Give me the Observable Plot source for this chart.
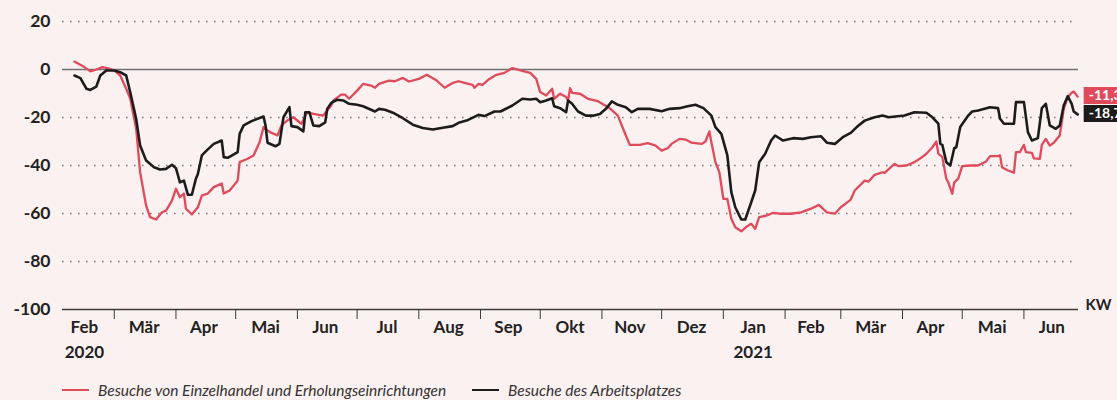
<!DOCTYPE html>
<html><head><meta charset="utf-8">
<script src="https://cdn.jsdelivr.net/npm/d3@7"></script>
<script src="https://cdn.jsdelivr.net/npm/@observablehq/plot@0.6"></script>
<style>
html,body{margin:0;padding:0;background:#fcf1f1;}
#wrap{position:relative;width:1117px;height:400px;overflow:hidden;font-family:Lato,"Open Sans",sans-serif;}
#legend{position:absolute;left:0;top:380px;width:1117px;height:20px;font-style:italic;font-size:15.5px;color:#333;}
.item{position:absolute;top:0;display:flex;align-items:center;white-space:nowrap;height:20px}
.sw{display:inline-block;width:27px;height:2.5px;margin-right:9px}
</style></head><body>
<div id="wrap"><div id="chart"></div><div id="legend"></div></div>
<script>
// Series: Besuche von Einzelhandel und Erholungseinrichtungen
const retailDates = ["2020-02-10","2020-02-15","2020-02-18","2020-02-21","2020-02-24","2020-02-27","2020-03-01","2020-03-04","2020-03-07","2020-03-09","2020-03-12","2020-03-14","2020-03-17","2020-03-19","2020-03-22","2020-03-25","2020-03-27","2020-03-30","2020-04-01","2020-04-03","2020-04-05","2020-04-06","2020-04-09","2020-04-12","2020-04-14","2020-04-17","2020-04-20","2020-04-24","2020-04-25","2020-04-28","2020-05-02","2020-05-03","2020-05-07","2020-05-10","2020-05-13","2020-05-15","2020-05-18","2020-05-22","2020-05-24","2020-05-27","2020-05-30","2020-06-03","2020-06-06","2020-06-09","2020-06-14","2020-06-18","2020-06-19","2020-06-23","2020-06-25","2020-06-27","2020-07-01","2020-07-04","2020-07-08","2020-07-10","2020-07-12","2020-07-17","2020-07-20","2020-07-24","2020-07-27","2020-08-01","2020-08-05","2020-08-10","2020-08-14","2020-08-18","2020-08-21","2020-08-24","2020-08-28","2020-08-29","2020-08-31","2020-09-02","2020-09-05","2020-09-09","2020-09-13","2020-09-17","2020-09-21","2020-09-26","2020-09-29","2020-10-01","2020-10-04","2020-10-05","2020-10-07","2020-10-08","2020-10-11","2020-10-14","2020-10-15","2020-10-16","2020-10-17","2020-10-21","2020-10-25","2020-10-30","2020-11-02","2020-11-04","2020-11-09","2020-11-12","2020-11-15","2020-11-20","2020-11-24","2020-11-28","2020-12-01","2020-12-04","2020-12-06","2020-12-10","2020-12-13","2020-12-16","2020-12-21","2020-12-23","2020-12-25","2020-12-26","2020-12-28","2020-12-30","2021-01-01","2021-01-03","2021-01-05","2021-01-07","2021-01-10","2021-01-13","2021-01-15","2021-01-17","2021-01-19","2021-01-23","2021-01-26","2021-01-30","2021-02-04","2021-02-09","2021-02-14","2021-02-18","2021-02-22","2021-02-26","2021-03-01","2021-03-06","2021-03-08","2021-03-13","2021-03-15","2021-03-18","2021-03-22","2021-03-23","2021-03-28","2021-03-30","2021-04-03","2021-04-07","2021-04-10","2021-04-13","2021-04-16","2021-04-18","2021-04-19","2021-04-21","2021-04-23","2021-04-24","2021-04-26","2021-04-27","2021-04-29","2021-05-01","2021-05-05","2021-05-09","2021-05-13","2021-05-15","2021-05-19","2021-05-20","2021-05-21","2021-05-24","2021-05-27","2021-05-28","2021-05-30","2021-06-01","2021-06-02","2021-06-05","2021-06-06","2021-06-09","2021-06-10","2021-06-12","2021-06-14","2021-06-16","2021-06-19","2021-06-20","2021-06-21","2021-06-23","2021-06-25","2021-06-26","2021-06-28"];
const retailValues = [3.3,1,-0.8,0,1,0.5,-0.4,-2.5,-8,-12,-24.6,-42.8,-56.7,-61.5,-62.5,-59.5,-58.8,-54.6,-49.7,-53.2,-51.7,-58,-60.4,-57.4,-52.5,-51.7,-49,-47.5,-51.7,-50.4,-46.3,-38.6,-37.2,-35.8,-30.3,-24,-26,-27.5,-23.3,-21.2,-19.9,-22.6,-17.8,-18.5,-19.2,-15,-13,-10.5,-10.5,-12.2,-8.8,-6,-6.7,-7.6,-6,-4.6,-4.9,-3.5,-5,-3.9,-2.2,-4.6,-7.6,-5.6,-4.9,-5.6,-6.4,-7.6,-6,-6.4,-4.2,-2.2,-1.4,0.6,-0.4,-1.4,-3.9,-9.4,-10.8,-9.9,-8,-12.2,-10.1,-11.5,-12.9,-7.8,-9.7,-10.1,-12.2,-13.2,-14.7,-15.5,-19.2,-25.4,-31.4,-31.4,-30.7,-31.7,-33.8,-32.8,-31,-28.9,-29.2,-30.5,-31,-30,-25.8,-30.3,-38.6,-42.8,-53.9,-53.9,-62.2,-65.7,-67.4,-65.3,-64.3,-66.4,-61.5,-60.8,-59.7,-60.1,-60.1,-59.5,-58,-56.4,-59.5,-60.1,-57.4,-54.2,-50.4,-46.3,-46.7,-43.9,-42.8,-43.1,-39.3,-40.3,-40,-38.6,-37,-35.1,-32.4,-30,-35.1,-36.5,-45.5,-47,-51.8,-47,-45.5,-40.3,-40,-40,-38.3,-36.1,-36.1,-35.8,-40.7,-42.1,-43,-34.4,-34.4,-31.4,-34.4,-34.7,-37,-37.2,-31.4,-28.9,-31.7,-30.5,-27.5,-22,-16.4,-11.5,-9.7,-9.2,-11.3];

// Series: Besuche des Arbeitsplatzes
const workDates = ["2020-02-10","2020-02-13","2020-02-16","2020-02-18","2020-02-21","2020-02-23","2020-02-26","2020-03-01","2020-03-04","2020-03-07","2020-03-09","2020-03-12","2020-03-14","2020-03-17","2020-03-21","2020-03-24","2020-03-27","2020-03-30","2020-04-01","2020-04-03","2020-04-05","2020-04-07","2020-04-09","2020-04-11","2020-04-12","2020-04-14","2020-04-17","2020-04-20","2020-04-24","2020-04-25","2020-04-27","2020-05-02","2020-05-03","2020-05-05","2020-05-09","2020-05-15","2020-05-16","2020-05-17","2020-05-21","2020-05-23","2020-05-25","2020-05-28","2020-05-29","2020-06-01","2020-06-04","2020-06-05","2020-06-07","2020-06-09","2020-06-12","2020-06-15","2020-06-16","2020-06-18","2020-06-21","2020-06-24","2020-06-27","2020-07-01","2020-07-04","2020-07-10","2020-07-12","2020-07-15","2020-07-19","2020-07-24","2020-07-29","2020-08-03","2020-08-08","2020-08-13","2020-08-18","2020-08-21","2020-08-25","2020-08-31","2020-09-03","2020-09-08","2020-09-11","2020-09-17","2020-09-22","2020-09-26","2020-09-29","2020-10-01","2020-10-04","2020-10-07","2020-10-08","2020-10-11","2020-10-14","2020-10-15","2020-10-17","2020-10-20","2020-10-24","2020-10-28","2020-10-31","2020-11-03","2020-11-06","2020-11-09","2020-11-13","2020-11-16","2020-11-19","2020-11-25","2020-12-01","2020-12-05","2020-12-10","2020-12-14","2020-12-18","2020-12-22","2020-12-26","2020-12-28","2020-12-31","2021-01-03","2021-01-05","2021-01-07","2021-01-10","2021-01-12","2021-01-15","2021-01-17","2021-01-19","2021-01-22","2021-01-25","2021-01-27","2021-01-31","2021-02-05","2021-02-10","2021-02-14","2021-02-19","2021-02-22","2021-02-26","2021-03-02","2021-03-06","2021-03-09","2021-03-13","2021-03-18","2021-03-22","2021-03-25","2021-04-02","2021-04-07","2021-04-13","2021-04-16","2021-04-19","2021-04-20","2021-04-21","2021-04-23","2021-04-25","2021-04-27","2021-04-28","2021-04-30","2021-05-04","2021-05-06","2021-05-09","2021-05-15","2021-05-19","2021-05-20","2021-05-22","2021-05-27","2021-05-28","2021-06-01","2021-06-03","2021-06-05","2021-06-08","2021-06-10","2021-06-12","2021-06-14","2021-06-17","2021-06-19","2021-06-21","2021-06-23","2021-06-25","2021-06-26","2021-06-28"];
const workValues = [-2.5,-3.6,-8,-8.5,-7.1,-2.5,-0.4,-0.4,-1.1,-2.5,-9.4,-20.5,-31.7,-37.9,-40.7,-41.7,-41.4,-39.7,-41.1,-47,-46.3,-52.2,-52.2,-45.5,-43.5,-35.8,-33.3,-31,-29.6,-36.5,-36.8,-34.4,-26.8,-23.3,-21.5,-19.6,-23.3,-30.5,-32,-31,-19.9,-15.7,-23.6,-24,-25.8,-17.8,-17.8,-23.3,-23.6,-22,-16.4,-13.9,-12.6,-12.9,-14.3,-14.7,-15.3,-17.5,-16.4,-16.8,-18,-20.3,-23,-24.4,-25,-24.3,-23.6,-22.2,-21.3,-18.9,-19.4,-17.5,-17.5,-15,-12.2,-12.5,-12.2,-13.6,-12.9,-12,-15.3,-16.1,-17.8,-12.9,-14.3,-17.5,-19.2,-19.2,-18.5,-16.4,-13.3,-14.7,-15.7,-17.8,-16.4,-16.4,-17.4,-16.4,-16.1,-15.3,-14.7,-16.1,-19.2,-24,-26.8,-35.8,-51.1,-57.4,-62.5,-62.5,-55.3,-50.4,-38.6,-35.1,-29.6,-27.5,-29.6,-28.6,-28.9,-28.2,-27.8,-30.5,-31,-28.2,-26.4,-24,-21.3,-19.9,-19.2,-19.9,-19.2,-17.8,-18,-19.9,-22.6,-31,-31.4,-38.6,-40,-32.8,-32.4,-24,-19.2,-17.5,-17.1,-15.7,-16.1,-20.5,-22.6,-22.6,-13.6,-13.6,-26.1,-29.6,-28.6,-16.1,-14.3,-23.3,-24.7,-23.3,-15,-11.1,-14.3,-17.5,-18.7];

const seriesNames = ["Besuche von Einzelhandel und Erholungseinrichtungen", "Besuche des Arbeitsplatzes"];
const seriesColors = ["#df4b5b", "#1c1c1c"];
const endLabels = ["-11,3", "-18,7"];

const monthTicks = ["2020-03-01","2020-04-01","2020-05-01","2020-06-01","2020-07-01","2020-08-01","2020-09-01","2020-10-01","2020-11-01","2020-12-01","2021-01-01","2021-02-01","2021-03-01","2021-04-01","2021-05-01","2021-06-01"];
const monthLabelDates = ["2020-02-15","2020-03-16","2020-04-15","2020-05-16","2020-06-15","2020-07-16","2020-08-16","2020-09-15","2020-10-16","2020-11-15","2020-12-16","2021-01-16","2021-02-14","2021-03-16","2021-04-15","2021-05-16","2021-06-15"];
const monthLabels = ["Feb","Mär","Apr","Mai","Jun","Jul","Aug","Sep","Okt","Nov","Dez","Jan","Feb","Mär","Apr","Mai","Jun"];
const yearLabelDates = ["2020-02-15","2021-01-16"];
const yearLabels = ["2020","2021"];
const yTicks = [20,0,-20,-40,-60,-80,-100];
const gridValues = [20,-20,-40,-60,-80];
const xDomain = ["2020-02-04","2021-06-28T10:00"];
const yDomain = [-100, 20];

const toDate = s => new Date(s);
const retail = retailDates.map((d,i) => ({date: toDate(d), value: retailValues[i]}));
const work = workDates.map((d,i) => ({date: toDate(d), value: workValues[i]}));
const ends = [
  {date: retail[retail.length-1].date, value: retailValues[retailValues.length-1], label: endLabels[0], color: seriesColors[0]},
  {date: work[work.length-1].date, value: workValues[workValues.length-1], label: endLabels[1], color: seriesColors[1]}
];
const boxSymbol = {draw(ctx) { ctx.rect(6, -9.5, 60, 17); }};
const font = "Lato, 'Open Sans', sans-serif";

const chart = Plot.plot({
  width: 1117, height: 372,
  marginLeft: 62, marginRight: 39, marginTop: 21, marginBottom: 63,
  style: {background: "transparent", fontFamily: font, color: "#222"},
  x: {type: "utc", domain: xDomain.map(toDate)},
  y: {domain: yDomain},
  marks: [
    Plot.ruleY(gridValues, {stroke: "#7d7d7d", strokeWidth: 1.6, strokeDasharray: "1.6,6.4"}),
    Plot.ruleY([0], {stroke: "#6f6f74", strokeWidth: 1.5}),
    Plot.ruleY([-100], {stroke: "#3a3a3a", strokeWidth: 1.3}),
    Plot.axisY({ticks: yTicks, tickSize: 0, tickPadding: 12, tickFormat: d => String(d), label: null, fontSize: 17.5, fontWeight: "bold", fill: "#222"}),
    Plot.axisX({ticks: monthTicks.map(toDate), tickSize: 10, tickFormat: () => "", label: null, stroke: "#3a3a3a"}),
    Plot.text(monthLabelDates, {x: toDate, frameAnchor: "bottom", dy: 23, text: (d,i) => monthLabels[i], fontSize: 17, fontWeight: "bold", fill: "#222"}),
    Plot.text(yearLabelDates, {x: toDate, frameAnchor: "bottom", dy: 48, text: (d,i) => yearLabels[i], fontSize: 17, fontWeight: "bold", fill: "#222"}),
    Plot.text(["KW"], {frameAnchor: "bottom-right", dx: 7, textAnchor: "start", fontSize: 15, fontWeight: "bold", fill: "#222"}),
    Plot.line(retail, {x: "date", y: "value", stroke: seriesColors[0], strokeWidth: 2.3, strokeLinejoin: "round"}),
    Plot.line(work, {x: "date", y: "value", stroke: seriesColors[1], strokeWidth: 2.6, strokeLinejoin: "round"}),
    Plot.dot(ends, {x: "date", y: "value", symbol: boxSymbol, r: 5, fill: "color", stroke: null}),
    Plot.text(ends, {x: "date", y: "value", text: "label", dx: 11, dy: -1, textAnchor: "start", fill: "white", fontSize: 14, fontWeight: "bold"})
  ]
});
document.getElementById("chart").appendChild(chart);

const legend = document.getElementById("legend");
const legendLeft = [62, 472];
seriesNames.forEach((name, i) => {
  const item = document.createElement("div");
  item.className = "item";
  item.style.left = legendLeft[i] + "px";
  const sw = document.createElement("span");
  sw.className = "sw";
  sw.style.background = seriesColors[i];
  const t = document.createElement("span");
  t.textContent = name;
  item.appendChild(sw); item.appendChild(t);
  legend.appendChild(item);
});
</script>
</body></html>
